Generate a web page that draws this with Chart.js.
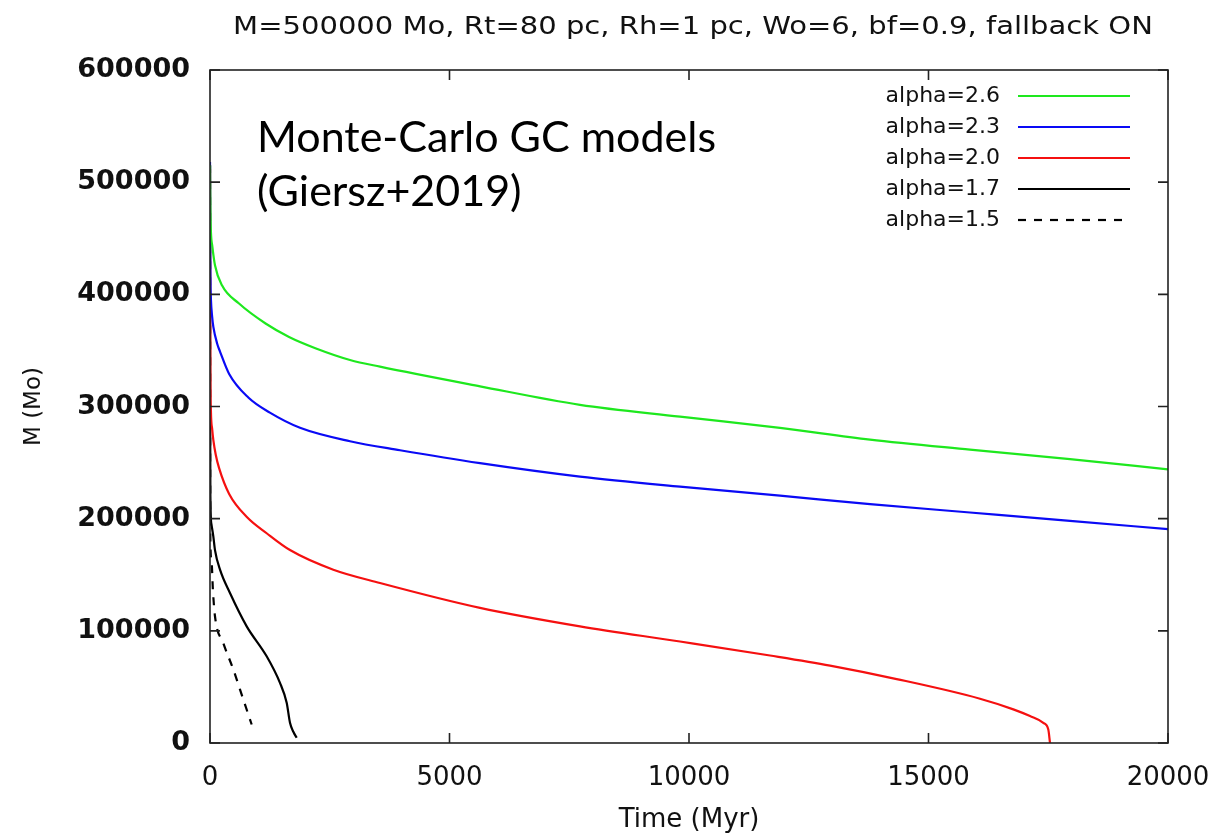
<!DOCTYPE html>
<html>
<head>
<meta charset="utf-8">
<script src="https://cdn.jsdelivr.net/npm/chart.js@4.4.1/dist/chart.umd.min.js"></script>
<style>
  html, body { margin: 0; padding: 0; background: #fff; }
  #wrap { width: 1220px; height: 838px; }
</style>
</head>
<body>
<div id="wrap"><canvas id="c" width="1220" height="838"></canvas></div>
<script>
// Cluster mass vs time for several IMF slopes (Monte-Carlo runs)
const xTicks = [0, 5000, 10000, 15000, 20000];
const yTicks = [0, 100000, 200000, 300000, 400000, 500000, 600000];

const tA26 = [0, 3, 8, 20, 48, 104, 250, 600, 1160, 1650, 2200, 2923, 3549, 5637, 7724, 9812, 11900, 13779, 15866, 17954, 20000];
const mA26 = [515000, 495000, 475000, 455000, 443000, 426000, 408000, 392000, 374000, 362000, 352000, 341500, 335500, 318000, 301500, 291000, 281000, 270500, 261500, 253000, 244000];

const tA23 = [0, 3, 8, 20, 45, 70, 150, 209, 400, 800, 1250, 1879, 2923, 3967, 5637, 7724, 9812, 11900, 13779, 15866, 17954, 20000];
const mA23 = [518000, 450000, 415000, 395000, 380000, 371000, 356000, 349000, 329000, 308000, 294500, 281000, 269000, 261000, 249500, 237500, 228500, 220500, 213000, 205500, 198000, 190700];

const tA20 = [0, 3, 8, 20, 45, 70, 120, 190, 400, 780, 1183, 1670, 2575, 3549, 5637, 7724, 9812, 11691, 12944, 14336, 16075, 16771, 17119, 17397, 17501, 17537];
const mA20 = [512000, 400000, 330000, 295000, 280000, 270000, 257000, 245000, 222000, 201000, 187000, 172000, 154500, 142700, 120500, 104000, 90500, 78000, 69000, 57000, 39500, 30000, 24000, 18000, 12000, 0];

const tA17 = [0, 3, 8, 30, 70, 104, 209, 417, 766, 1183, 1461, 1601, 1670, 1740, 1809];
const mA17 = [515000, 300000, 220000, 195000, 184000, 172000, 154500, 133700, 104000, 77300, 53600, 35800, 18000, 10000, 4600];

const tA15 = [0, 3, 10, 35, 60, 104, 278, 487, 696, 870];
const mA15 = [515000, 250000, 175000, 160500, 137000, 113000, 89000, 65500, 38700, 16500];

const seriesLabels = ['alpha=2.6', 'alpha=2.3', 'alpha=2.0', 'alpha=1.7', 'alpha=1.5'];

const pts = (ts, ms) => ts.map((t, i) => ({ x: t, y: ms[i] }));

function lineSet(label, ts, ms, color, dash) {
  return {
    label: label,
    data: pts(ts, ms),
    borderColor: color,
    backgroundColor: color,
    borderWidth: 2.2,
    borderDash: dash || [],
    pointRadius: 0,
    fill: false,
    cubicInterpolationMode: 'monotone'
  };
}

// frame with inward ticks on all four sides, title, legend and note
const decor = {
  id: 'decor',
  afterDatasetsDraw(chart) {
    const { ctx, chartArea: a, scales } = chart;
    ctx.save();
    ctx.strokeStyle = '#222';
    ctx.lineWidth = 1.6;
    ctx.setLineDash([]);
    ctx.strokeRect(a.left, a.top, a.right - a.left, a.bottom - a.top);
    const tl = 10;
    ctx.beginPath();
    scales.x.ticks.forEach((tk, i) => {
      const px = scales.x.getPixelForTick(i);
      ctx.moveTo(px, a.bottom); ctx.lineTo(px, a.bottom - tl);
      ctx.moveTo(px, a.top); ctx.lineTo(px, a.top + tl);
    });
    scales.y.ticks.forEach((tk, i) => {
      const py = scales.y.getPixelForTick(i);
      ctx.moveTo(a.left, py); ctx.lineTo(a.left + tl, py);
      ctx.moveTo(a.right, py); ctx.lineTo(a.right - tl, py);
    });
    ctx.stroke();

    // title, widened to the plot's proportions
    ctx.fillStyle = '#111';
    ctx.font = '24px "DejaVu Sans"';
    ctx.textAlign = 'center';
    ctx.textBaseline = 'middle';
    ctx.save();
    ctx.translate((a.left + a.right) / 2 + 4, 28);
    ctx.scale(1.21, 1);
    ctx.fillText('M=500000 Mo, Rt=80 pc, Rh=1 pc, Wo=6, bf=0.9, fallback ON', 0, 0);
    ctx.restore();

    // legend: text on the left, line sample on the right
    ctx.font = '22px "DejaVu Sans"';
    ctx.textAlign = 'right';
    chart.data.datasets.forEach((ds, i) => {
      const y = 96 + i * 31;
      ctx.fillStyle = '#111';
      ctx.fillText(ds.label, a.right - 168, y);
      ctx.strokeStyle = ds.borderColor;
      ctx.lineWidth = 2.2;
      ctx.setLineDash(ds.borderDash || []);
      ctx.beginPath();
      ctx.moveTo(a.right - 150, y);
      ctx.lineTo(a.right - 38, y);
      ctx.stroke();
    });
    ctx.setLineDash([]);

    // note
    ctx.fillStyle = '#000';
    ctx.font = '43px Lato';
    ctx.textAlign = 'left';
    ctx.textBaseline = 'alphabetic';
    ctx.fillText('Monte-Carlo GC models', a.left + 47, 152);
    ctx.fillText('(Giersz+2019)', a.left + 47, 206);
    ctx.restore();
  }
};

new Chart(document.getElementById('c'), {
  type: 'line',
  data: {
    datasets: [
      lineSet(seriesLabels[0], tA26, mA26, '#1ee81e'),
      lineSet(seriesLabels[1], tA23, mA23, '#0a0af5'),
      lineSet(seriesLabels[2], tA20, mA20, '#f51010'),
      lineSet(seriesLabels[3], tA17, mA17, '#000000'),
      lineSet(seriesLabels[4], tA15, mA15, '#000000', [8, 8])
    ]
  },
  options: {
    responsive: false,
    animation: false,
    layout: { padding: { left: 0, top: 70, right: 52, bottom: 0 } },
    plugins: { legend: { display: false }, tooltip: { enabled: false } },
    scales: {
      x: {
        type: 'linear',
        min: xTicks[0],
        max: xTicks[xTicks.length - 1],
        afterFit(s) { s.height = 95; },
        afterBuildTicks(s) { s.ticks = xTicks.map(v => ({ value: v })); },
        grid: { display: true, drawOnChartArea: false, drawTicks: true, tickLength: 18, color: 'rgba(0,0,0,0)' },
        border: { display: false },
        ticks: { color: '#111', padding: 2, maxRotation: 0, font: { family: 'DejaVu Sans', size: 26 }, callback: v => String(v) },
        title: { display: true, text: 'Time (Myr)', color: '#111', font: { family: 'DejaVu Sans', size: 26 }, padding: { top: 0, bottom: 2 } }
      },
      y: {
        type: 'linear',
        min: yTicks[0],
        max: yTicks[yTicks.length - 1],
        afterFit(s) { s.width = 210; },
        afterBuildTicks(s) { s.ticks = yTicks.map(v => ({ value: v })); },
        grid: { display: false, drawTicks: false },
        border: { display: false },
        ticks: { color: '#111', padding: 20, font: { family: 'DejaVu Sans', size: 27, weight: 'bold' }, callback: v => String(v) },
        title: { display: true, text: 'M (Mo)', color: '#111', font: { family: 'DejaVu Sans', size: 23 }, padding: { top: 20, bottom: 0 } }
      }
    }
  },
  plugins: [decor]
});
</script>
</body>
</html>
